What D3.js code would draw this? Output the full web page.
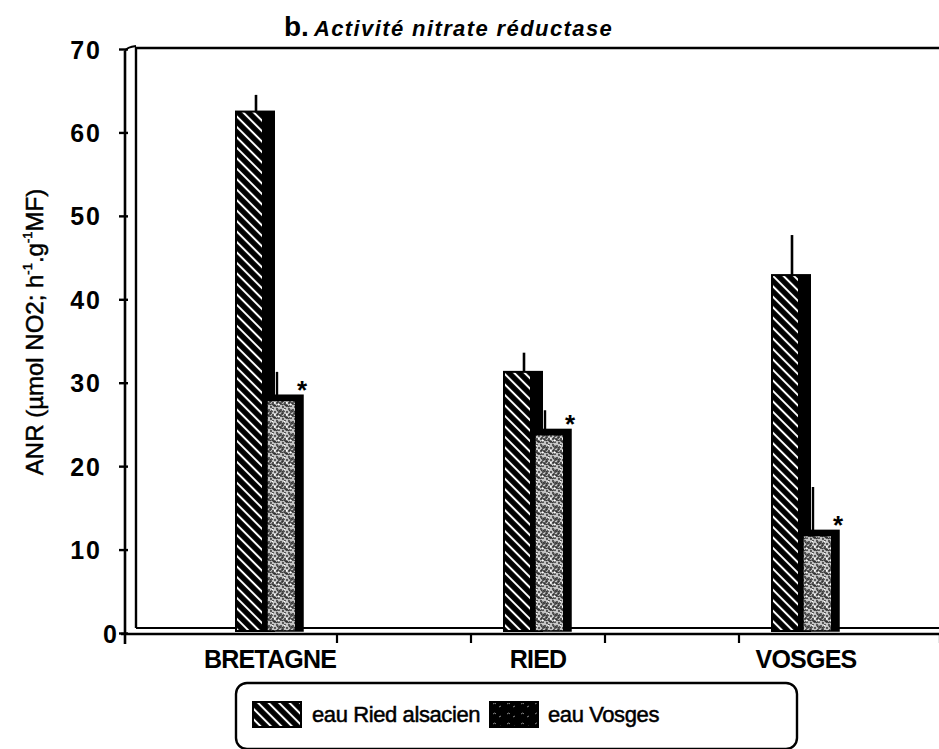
<!DOCTYPE html>
<html>
<head>
<meta charset="utf-8">
<script src="https://cdn.jsdelivr.net/npm/d3@7"></script>
<style>
  html, body { margin: 0; padding: 0; background: #fff; }
  svg { display: block; }
  text { font-family: "Liberation Sans", Arial, sans-serif; fill: #000; }
</style>
</head>
<body>
<svg id="chart" width="939" height="749"></svg>
<script>
// Nitrate reductase activity by origin and water type
const categories = ["BRETAGNE", "RIED", "VOSGES"];
const seriesNames = ["eau Ried alsacien", "eau Vosges"];
const riedValues = [62.5, 31.3, 42.9];
const riedErrors = [64.5, 33.6, 47.7];     // upper end of error bar
const vosgesValues = [28.5, 24.4, 12.3];
const vosgesErrors = [31.3, 26.7, 17.5];   // upper end of error bar
const significant = [true, true, true];
const yTicks = [0, 10, 20, 30, 40, 50, 60, 70];
const xTickPositions = [0.75, 1.25, 1.75, 2.25, 3];

const svg = d3.select("#chart");

// ---- patterns ----
const defs = svg.append("defs");
const hatch = defs.append("pattern")
  .attr("id", "hatch").attr("patternUnits", "userSpaceOnUse")
  .attr("width", 7.4).attr("height", 7.4)
  .attr("patternTransform", "rotate(-45)");
hatch.append("rect").attr("width", 7.4).attr("height", 7.4).attr("fill", "#000");
hatch.append("line").attr("x1", 3.7).attr("y1", 0).attr("x2", 3.7).attr("y2", 7.4)
  .attr("stroke", "#fff").attr("stroke-width", 2);

const stip = defs.append("pattern")
  .attr("id", "stipple").attr("patternUnits", "userSpaceOnUse")
  .attr("width", 12).attr("height", 12);
stip.append("rect").attr("width", 12).attr("height", 12).attr("fill", "#c4c4c4");
const dots = [[1,1],[5,2],[9,1],[3,4],[7,5],[11,4],[1,7],[5,8],[9,7],[3,10],[7,11],[11,10],[6,6],[10,9],[2,6],[8,3],[4,7]];
stip.selectAll("circle").data(dots).join("circle")
  .attr("cx", d => d[0]).attr("cy", d => d[1]).attr("r", 0.9).attr("fill", "#222");
stip.append("path").attr("d", "M1 3 q2 -2 3 0 t3 0 M6 9 q2 -2 3 0 t3 0 M0 11 l3 -2")
  .attr("fill", "none").attr("stroke", "#333").attr("stroke-width", 1.1);
stip.selectAll("rect.hl").data([[2,8],[8,1],[10,6]]).join("rect")
  .attr("class", "hl").attr("x", d => d[0]).attr("y", d => d[1])
  .attr("width", 1.5).attr("height", 1.5).attr("fill", "#fff");

const stipDark = defs.append("pattern")
  .attr("id", "stippleDark").attr("patternUnits", "userSpaceOnUse")
  .attr("width", 14).attr("height", 10);
stipDark.append("rect").attr("width", 14).attr("height", 10).attr("fill", "#000");
stipDark.append("path").attr("d", "M3 4 q2 -2 3 0 M9 7 l2 -1")
  .attr("fill", "none").attr("stroke", "#888").attr("stroke-width", 1);

// ---- scales ----
const plotLeft = 136, plotRight = 940;
const x = d3.scaleBand().domain(categories).range([plotLeft, plotRight]);
const xPos = d3.scaleLinear().domain([0, 3]).range([plotLeft, plotRight]);
const y = d3.scaleLinear().domain([0, 70]).range([633, 49]);

// ---- frame / axes ----
const axisX = 125, axisY = 634;
// inner frame (depth)
svg.append("path")
  .attr("d", `M${plotLeft},${y(0) - 5} V${y(70) - 1} H939`)
  .attr("fill", "none").attr("stroke", "#000").attr("stroke-width", 2.4);
svg.append("line").attr("x1", plotLeft).attr("x2", 939)
  .attr("y1", y(0) - 5).attr("y2", y(0) - 5).attr("stroke", "#000").attr("stroke-width", 2);
svg.append("path")
  .attr("d", `M${axisX},${y(70) + 2} q2 -4 ${plotLeft - axisX} -5`)
  .attr("fill", "none").attr("stroke", "#000").attr("stroke-width", 2);

// outer y axis
const yAxis = svg.append("g").attr("transform", `translate(${axisX},0)`)
  .call(d3.axisLeft(y).tickValues(yTicks).tickSize(5).tickSizeOuter(0).tickPadding(0));
yAxis.select(".domain").remove();
yAxis.append("line").attr("x1", 0).attr("x2", 0).attr("y1", y(70) + 2).attr("y2", axisY + 10)
  .attr("stroke", "#000").attr("stroke-width", 2.6);
yAxis.selectAll(".tick line").attr("x1", -6).attr("x2", 3).attr("stroke-width", 2.4);
yAxis.selectAll(".tick text")
  .attr("x", d => d === 0 ? -6 : -23)
  .attr("dy", "0.36em")
  .style("font-size", "25px").style("font-weight", "bold")
  .style("letter-spacing", "2px")
  .style("font-family", "'Liberation Sans', Arial, sans-serif");

// outer x axis
svg.append("line").attr("x1", axisX - 4).attr("x2", 939)
  .attr("y1", axisY).attr("y2", axisY).attr("stroke", "#000").attr("stroke-width", 2.6);
svg.append("g").selectAll("line").data(xTickPositions).join("line")
  .attr("x1", d => xPos(d)).attr("x2", d => xPos(d))
  .attr("y1", axisY).attr("y2", axisY + 9)
  .attr("stroke", "#000").attr("stroke-width", 2.2);

// category labels
svg.append("g").selectAll("text").data(categories).join("text")
  .attr("x", d => x(d) + x.bandwidth() / 2)
  .attr("y", 668)
  .attr("text-anchor", "middle")
  .style("font-size", "25px").style("font-weight", "bold").style("letter-spacing", "-0.8px")
  .text(d => d);

// ---- bars ----
const hw = 38, hFace = 12, vw = 36, vFace = 8;
const hx = c => x(c) + x.bandwidth() / 2 - 34;
const vx = c => x(c) + x.bandwidth() / 2 - 3;
const base = y(0) - 2;

const groups = svg.append("g").selectAll("g").data(categories).join("g");

// Ried water bars (hatched with dark side face)
groups.append("rect")
  .attr("x", c => hx(c)).attr("y", (c, i) => y(riedValues[i]))
  .attr("width", hw).attr("height", (c, i) => base - y(riedValues[i]))
  .attr("fill", "url(#hatch)").attr("stroke", "#000").attr("stroke-width", 2);
groups.append("rect")
  .attr("x", c => hx(c) + hw - hFace).attr("y", (c, i) => y(riedValues[i]))
  .attr("width", hFace).attr("height", (c, i) => base - y(riedValues[i]))
  .attr("fill", "#000");
groups.append("line")
  .attr("x1", c => hx(c) + 20).attr("x2", c => hx(c) + 20)
  .attr("y1", (c, i) => y(riedValues[i])).attr("y2", (c, i) => y(riedErrors[i]))
  .attr("stroke", "#000").attr("stroke-width", 2.6);

// Vosges water bars (stippled with dark side and top)
groups.append("line")
  .attr("x1", c => vx(c) + 10).attr("x2", c => vx(c) + 10)
  .attr("y1", (c, i) => y(vosgesValues[i])).attr("y2", (c, i) => y(vosgesErrors[i]))
  .attr("stroke", "#000").attr("stroke-width", 2.4);
groups.append("rect")
  .attr("x", c => vx(c)).attr("y", (c, i) => y(vosgesValues[i]))
  .attr("width", vw).attr("height", (c, i) => base - y(vosgesValues[i]))
  .attr("fill", "url(#stipple)").attr("stroke", "#000").attr("stroke-width", 1.5);
groups.append("rect")
  .attr("x", c => vx(c) + vw - vFace).attr("y", (c, i) => y(vosgesValues[i]))
  .attr("width", vFace).attr("height", (c, i) => base - y(vosgesValues[i]))
  .attr("fill", "#000");
groups.append("rect")
  .attr("x", c => vx(c)).attr("y", (c, i) => y(vosgesValues[i]))
  .attr("width", vw).attr("height", 6)
  .attr("fill", "#000");

// significance marks
groups.filter((c, i) => significant[i]).append("text")
  .attr("x", c => vx(c) + vw - 1)
  .attr("y", c => y(vosgesValues[categories.indexOf(c)]) + 4)
  .attr("text-anchor", "middle")
  .style("font-size", "26px").style("font-weight", "bold")
  .text("*");

// ---- title ----
const title = svg.append("text").attr("x", 284).attr("y", 36);
title.append("tspan").style("font-size", "28px").style("font-weight", "bold").text("b.");
title.append("tspan").attr("dx", 5)
  .style("font-size", "22px").style("font-style", "italic").style("font-weight", "bold")
  .style("letter-spacing", "1.4px")
  .text("Activité nitrate réductase");

// ---- y axis title ----
const yTitle = svg.append("text")
  .attr("transform", "translate(43,332) rotate(-90)")
  .attr("text-anchor", "middle")
  .attr("stroke", "#000").attr("stroke-width", 0.5)
  .style("font-size", "24px");
yTitle.append("tspan").text("ANR (µmol NO2; h");
yTitle.append("tspan").attr("dy", -11).style("font-size", "13px").text("-1");
yTitle.append("tspan").attr("dy", 11).text(".g");
yTitle.append("tspan").attr("dy", -11).style("font-size", "13px").text("-1");
yTitle.append("tspan").attr("dy", 11).text("MF)");

// ---- legend ----
const legend = svg.append("g");
legend.append("rect")
  .attr("x", 236).attr("y", 683).attr("width", 561).attr("height", 66).attr("rx", 11)
  .attr("fill", "none").attr("stroke", "#000").attr("stroke-width", 2.4);
const legendItems = [
  { name: seriesNames[0], fill: "url(#hatch)", sx: 253, tx: 312 },
  { name: seriesNames[1], fill: "url(#stippleDark)", sx: 490, tx: 548 }
];
legend.selectAll("rect.sw").data(legendItems).join("rect")
  .attr("class", "sw")
  .attr("x", d => d.sx).attr("y", 702).attr("width", 48).attr("height", 25)
  .attr("fill", d => d.fill).attr("stroke", "#000").attr("stroke-width", 2);
legend.selectAll("text").data(legendItems).join("text")
  .attr("x", d => d.tx).attr("y", 722)
  .attr("stroke", "#000").attr("stroke-width", 0.5)
  .style("font-size", "22px").style("letter-spacing", "-0.4px")
  .text(d => d.name);
</script>
</body>
</html>
